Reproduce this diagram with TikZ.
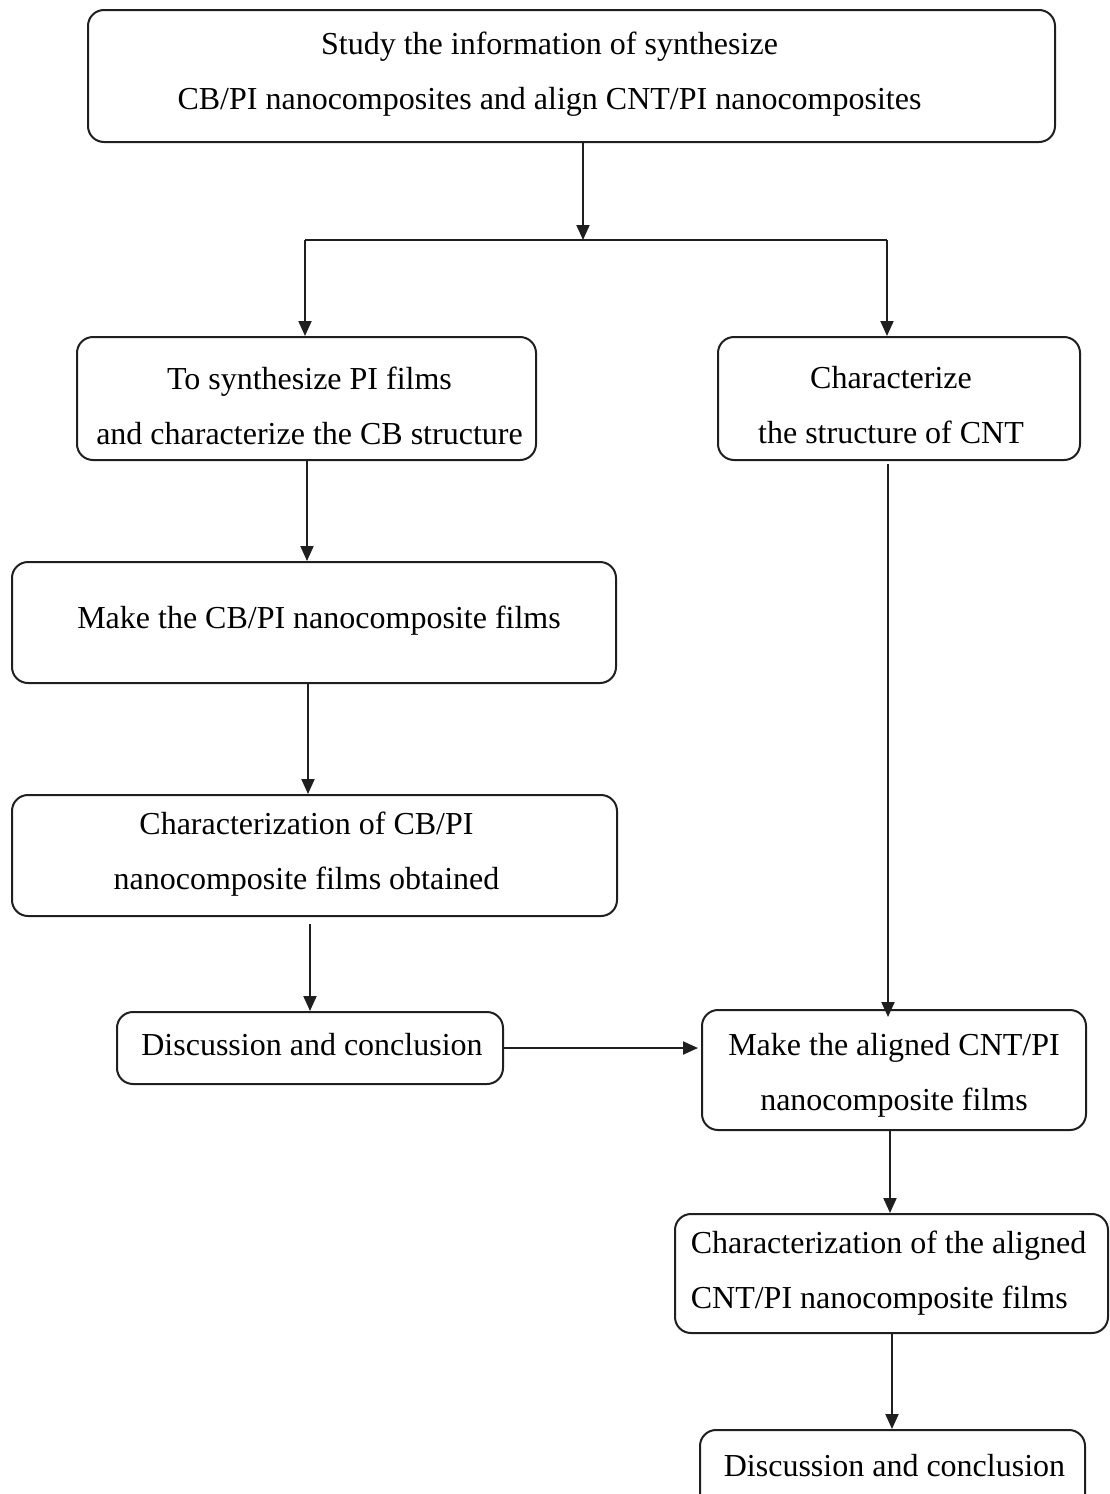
\documentclass[tikz,border=0pt]{standalone}
\usepackage{fontspec}
\setmainfont{Liberation Serif}
\usetikzlibrary{arrows.meta,calc}
\begin{document}
\begin{tikzpicture}[x=1pt,y=-1pt,
  box/.style={draw=black!88, line width=2pt, rounded corners=16pt, inner sep=0pt},
  txt/.style={align=center, font=\fontsize{32}{55}\selectfont, inner sep=0pt},
  arr/.style={draw=black!88, line width=2pt, -{Triangle[length=15pt,width=13pt]}},
  ln/.style={draw=black!88, line width=2pt}]
\useasboundingbox (0,0) rectangle (1109,1494);
\node[box, minimum width=967pt, minimum height=132pt,
  label={[txt, xshift=-22pt, yshift=2pt]center:{Study the information of synthesize\\CB/PI nanocomposites and align CNT/PI nanocomposites}}] (top) at (571.5,76) {};
\node[box, minimum width=459pt, minimum height=123pt,
  label={[txt, xshift=3pt, yshift=-7pt]center:{To synthesize PI films\\and characterize the CB structure}}] (b2) at (306.5,398.5) {};
\node[box, minimum width=362pt, minimum height=123pt,
  label={[txt, xshift=-8pt, yshift=-7pt]center:{Characterize\\the structure of CNT}}] (b3) at (899,398.5) {};
\node[box, minimum width=604pt, minimum height=121pt,
  label={[txt, xshift=5pt, yshift=2pt]center:{Make the CB/PI nanocomposite films}}] (b4) at (314,622.5) {};
\node[box, minimum width=605pt, minimum height=121pt,
  label={[txt, xshift=-8pt, yshift=1pt]center:{Characterization of CB/PI\\nanocomposite films obtained}}] (b5) at (314.5,855.5) {};
\node[box, minimum width=386pt, minimum height=72pt,
  label={[txt, xshift=2pt, yshift=3pt]center:{Discussion and conclusion}}] (b6) at (310,1048) {};
\node[box, minimum width=384pt, minimum height=120pt,
  label={[txt, yshift=-5pt]center:{Make the aligned CNT/PI\\nanocomposite films}}] (b7) at (894,1070) {};
\node[box, minimum width=433pt, minimum height=119pt,
  label={[txt, align=left, xshift=-3pt]center:{Characterization of the aligned\\CNT/PI nanocomposite films}}] (b8) at (891.5,1273.5) {};
\node[box, minimum width=385pt, minimum height=80pt, anchor=north,
  label={[txt, xshift=2pt, yshift=4pt]center:{Discussion and conclusion}}] (b9) at (892.5,1429) {};
\coordinate (split) at (583,240);
\coordinate (sl) at (305,240);
\coordinate (sr) at (887,240);
\draw[arr] (top.south -| split) -- (split);
\draw[ln] (sl) -- (sr);
\draw[arr] (sl) -- (sl |- b2.north);
\draw[arr] (sr) -- (sr |- b3.north);
\draw[arr] ([xshift=0.5pt]b2.south) -- ([xshift=0.5pt]b2.south |- b4.north);
\draw[arr] ([xshift=-6pt]b4.south) -- ([xshift=-6pt]b4.south |- b5.north);
\draw[arr] ([yshift=-7pt]b5.south -| b6.north) -- (b6.north);
\draw[arr] ([shift={(-11pt,-3pt)}]b3.south) -- ([xshift=-11pt,yshift=-8pt]b3.south |- b7.north);
\draw[arr] (b6.east) -- ([xshift=-3pt]b6.east -| b7.west);
\draw[arr] ([xshift=-4pt]b7.south) -- ([xshift=-4pt]b7.south |- b8.north);
\draw[arr] ([xshift=0.5pt]b8.south) -- ([xshift=0.5pt]b8.south |- b9.north);
\end{tikzpicture}
\end{document}
